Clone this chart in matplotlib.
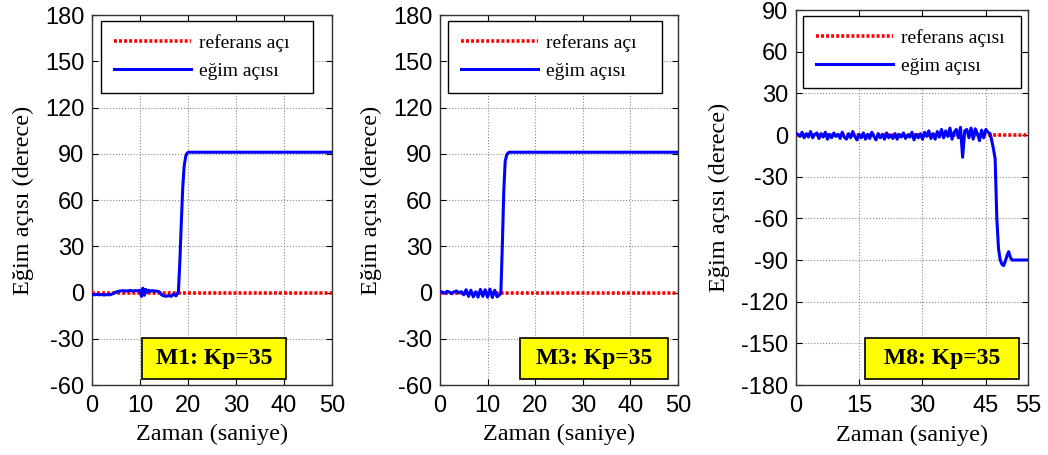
import numpy as np
import matplotlib
matplotlib.use("Agg")
import matplotlib.pyplot as plt
from matplotlib.patches import Rectangle

plt.rcParams["axes.unicode_minus"] = False

# --- veri ---
# M1
t1 = [0, 0.5, 1, 1.5, 2, 2.5, 3, 3.5, 4, 4.5, 5, 5.5, 6, 6.5, 7, 7.5, 8, 8.5, 9, 9.5,
      10, 10.3, 10.6, 10.9, 11.2, 11.5, 11.8, 12.1, 12.5, 13, 13.5, 14, 14.5, 15, 15.5,
      16, 16.5, 17, 17.5, 18, 18.3, 18.6, 18.9, 19.2, 19.5, 19.8, 20.1, 20.5, 21, 50]
y1 = [-1, -1.5, -1.2, -1.5, -1.3, -1.6, -1.4, -1.5, -1.2, -0.5, 0.3, 0.8, 1.0, 1.2, 1.0,
      1.1, 1.3, 1.0, 1.2, 1.1, 1.4, -2.5, 2.8, -1.8, 2.0, 0.2, 1.5, 0.8, 1.2, 1.0, 0.9,
      0.5, -1.5, -2.2, -2.4, -2.0, -2.5, -1.0, -2.2, 0.5, 20, 45, 68, 82, 88, 90.5, 91,
      91, 91, 91]

# M3
t2 = [0, 0.5, 1, 1.5, 2, 2.5, 3, 3.5, 4, 4.5, 5, 5.5, 6, 6.5, 7, 7.5, 8, 8.5, 9, 9.5,
      10, 10.5, 11, 11.5, 12, 12.5, 12.8, 13.1, 13.4, 13.7, 14.0, 14.3, 14.6, 15, 50]
y2 = [0.5, 0.3, -0.5, 0.8, 0.2, -0.8, 0.5, 1.0, -0.3, 0.6, -1.5, 1.8, -2.5, 1.5, -2.8,
      0.5, -3.0, 2.0, -2.5, 1.8, -3.0, 2.2, -3.2, 1.5, -2.8, -1.5, 0, 30, 65, 85, 89,
      90.5, 91, 91, 91]

# M8
t3_gurultu = np.arange(0, 46.01, 0.5)
y3_gurultu = [1, 0.5, -1, 2, -2, 1, -1.5, 2.5, -2, 0.5, 1.5,
              -2.5, 1, -1.5, 2, -3, 0.5, -2, 1.5, -1, 0.5,
              -2.5, 2, -1.5, -3, 1, -2, 2.5, -1, -3.5, 0.5,
              -2, 1.5, -3, 0.5, -2.5, 2, -1, -3.5, 1, -2,
              0.5, -3, 1.5, -2, 0, -2.5, 1, -3, 0.5, -1.5,
              1.5, -2.5, 0, -1.5, 2, -3.5, 0.5, -2, 1, -3,
              2, -1, 3, -2.5, 1, -3, 2.5, -1.5, 4, -2,
              3, -1, 5, -3, 2, 4, -2, 5.5, -16, 3,
              4, -2, 5, -3, 4.5, 1, -4, 3.5, -2, 4, 2, 1]
t3_dusus = [46.4, 46.8, 47.2, 47.6, 48.0, 48.4, 48.8, 49.2, 49.6, 50.0, 50.4, 50.8, 51.2, 52, 55]
y3_dusus = [-4, -10, -17, -60, -82, -90, -93, -94, -91, -87, -84, -88, -90, -90, -90]
t3 = list(t3_gurultu) + t3_dusus
y3 = list(y3_gurultu) + y3_dusus

paneller = [
    dict(t=t1, y=y1, xmax=50, xt=[0, 10, 20, 30, 40, 50], ylim=(-60, 180),
         yt=np.arange(-60, 181, 30), ref="referans açı", kutu="M1: Kp=35",
         pos=[0.0878, 0.1538, 0.229, 0.8132], kx=(0.21, 0.81), ylx=-0.242,
         leg=(0.0375, 0.885)),
    dict(t=t2, y=y2, xmax=50, xt=[0, 10, 20, 30, 40, 50], ylim=(-60, 180),
         yt=np.arange(-60, 181, 30), ref="referans açı", kutu="M3: Kp=35",
         pos=[0.4198, 0.1538, 0.2271, 0.8132], kx=(0.336, 0.958), ylx=-0.244,
         leg=(0.034, 0.9)),
    dict(t=t3, y=y3, xmax=55, xt=[0, 15, 30, 45, 55], ylim=(-180, 90),
         yt=np.arange(-180, 91, 30), ref="referans açısı", kutu="M8: Kp=35",
         pos=[0.7593, 0.1538, 0.2217, 0.8242], kx=(0.298, 0.961), ylx=-0.283,
         leg=(0.031, 0.94)),
]

serif = "Liberation Serif"
sans = "Liberation Sans"

fig = plt.figure(figsize=(10.48, 4.55), dpi=100)

for p in paneller:
    ax = fig.add_axes(p["pos"])
    ax.plot([0, p["xmax"]], [0, 0], color="red", lw=2.6, ls=(0, (0.8, 0.6)),
            label=p["ref"], zorder=3)
    ax.plot(p["t"], p["y"], color="blue", lw=2.2, label="eğim açısı", zorder=4)
    ax.set_xlim(0, p["xmax"])
    ax.set_ylim(*p["ylim"])
    ax.set_xticks(p["xt"])
    ax.set_yticks(p["yt"])
    ax.grid(True, ls=":", color="#888888", lw=0.8)
    ax.tick_params(direction="in", top=True, right=True, length=4, labelsize=17)
    ax.tick_params(axis="x", pad=7)
    ax.tick_params(axis="y", pad=5.5)
    for lab in ax.get_xticklabels() + ax.get_yticklabels():
        lab.set_fontfamily(sans)
    for s in ax.spines.values():
        s.set_color("#333333")
        s.set_linewidth(1.0)
    ax.set_xlabel("Zaman (saniye)", fontfamily=serif, fontsize=17.5)
    ax.set_ylabel("Eğim açısı (derece)", fontfamily=serif, fontsize=17.5)
    ax.xaxis.set_label_coords(0.5, -0.105)
    ax.yaxis.set_label_coords(p["ylx"], 0.5)

    lx, lw = p["leg"]
    leg = ax.legend(loc="upper left", bbox_to_anchor=(lx, 0.983, lw, 0),
                    mode="expand", prop={"family": serif, "size": 14},
                    fancybox=False, framealpha=1, edgecolor="black",
                    handlelength=4.0, handletextpad=0.4, borderpad=0.65,
                    labelspacing=0.55, borderaxespad=0)
    leg.get_frame().set_linewidth(1.0)

    x0, x1 = p["kx"]
    ax.add_patch(Rectangle((x0, 0.016), x1 - x0, 0.11, transform=ax.transAxes,
                           facecolor="yellow", edgecolor="black", lw=1.2, zorder=5))
    ax.text((x0 + x1) / 2, 0.071, p["kutu"], transform=ax.transAxes, ha="center",
            va="center", fontfamily=serif, fontsize=17, fontweight="bold", zorder=6)

fig.savefig("out.png", dpi=100)
